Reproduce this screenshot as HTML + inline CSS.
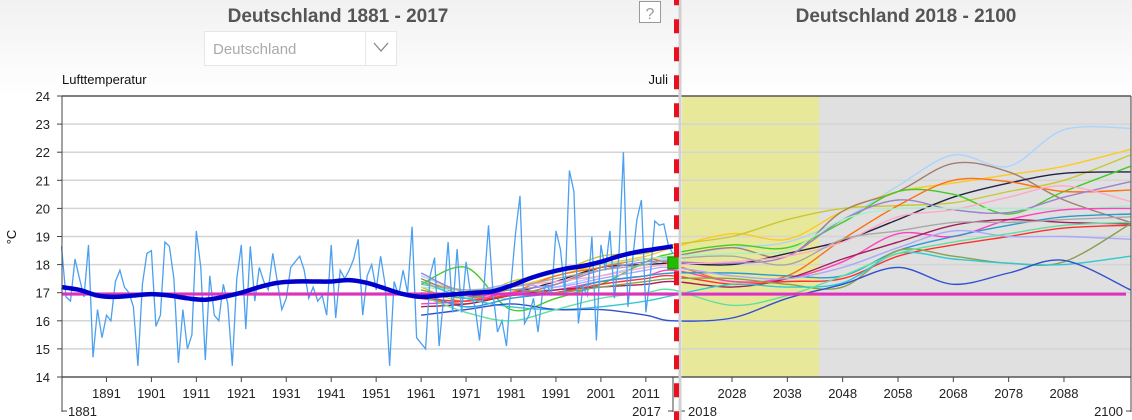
<!DOCTYPE html>
<html><head><meta charset="utf-8">
<style>
body{margin:0;width:1132px;height:420px;overflow:hidden;background:#fff;font-family:"Liberation Sans",sans-serif;}
svg{display:block}
</style></head>
<body>
<svg id="chart" width="1132" height="420" xmlns="http://www.w3.org/2000/svg">
<defs><linearGradient id="hdr" x1="0" y1="0" x2="0" y2="1"><stop offset="0" stop-color="#f1f1f1"/><stop offset="1" stop-color="#ffffff"/></linearGradient></defs>
<rect x="0" y="0" width="1132" height="95" fill="url(#hdr)"/>
<text x="338" y="22" text-anchor="middle" font-size="19" font-weight="bold" fill="#555">Deutschland 1881 - 2017</text>
<text x="906" y="22" text-anchor="middle" font-size="19" font-weight="bold" fill="#555">Deutschland 2018 - 2100</text>
<g>
<rect x="204.5" y="31.5" width="192" height="34" fill="#fff" stroke="#e6e6e6"/>
<line x1="365.5" y1="32" x2="365.5" y2="65" stroke="#e6e6e6"/>
<text x="213" y="54" font-size="15" fill="#aaa">Deutschland</text>
<polyline points="374,43 381,51 388,43" fill="none" stroke="#888" stroke-width="1.3"/>
</g>
<g>
<rect x="639.5" y="1.5" width="21" height="21" fill="#fff" stroke="#999"/>
<text x="650" y="19" text-anchor="middle" font-size="16" fill="#999">?</text>
</g>
<text x="62" y="84" font-size="13" fill="#111">Lufttemperatur</text>
<text x="668" y="84" text-anchor="end" font-size="13" fill="#111">Juli</text>
<text transform="translate(16,237) rotate(-90)" text-anchor="middle" font-size="13" fill="#111">°C</text>
<rect x="682" y="96" width="137" height="281" fill="#e8e89a"/>
<rect x="819" y="96" width="312" height="281" fill="#e0e0e0"/>
<g id="grid"></g>
<g id="series"></g>
<g id="axes"></g>
</svg>
<script>
const yTicks=[14,15,16,17,18,19,20,21,22,23,24];
const histTickYears=[1891,1901,1911,1921,1931,1941,1951,1961,1971,1981,1991,2001,2011];
const projTickYears=[2028,2038,2048,2058,2068,2078,2088];
const refValue=16.95;
const annualStart=1881;
const annual=[18.65,16.85,16.7,18.2,17.5,16.85,18.7,14.7,16.4,15.4,16.2,16.0,17.4,17.8,17.2,17.0,16.5,14.4,17.3,18.4,18.5,15.8,16.2,18.8,18.65,17.5,14.5,16.4,15.0,15.5,19.2,17.9,14.6,17.6,16.2,16.0,17.3,16.6,14.4,17.5,18.7,15.7,18.65,16.7,17.9,17.4,17.1,18.4,17.4,16.4,16.8,17.9,18.1,18.3,17.8,16.8,17.2,16.7,16.9,16.2,18.7,16.1,17.8,17.5,17.8,18.2,18.9,16.2,17.6,18.0,17.1,18.3,17.3,14.4,17.4,16.9,17.8,17.0,19.35,15.4,15.2,15.0,17.6,18.25,15.1,16.8,18.8,16.3,18.55,16.3,18.1,17.0,16.5,15.3,17.2,19.4,17.0,15.6,16.0,15.1,17.3,19.1,20.45,15.9,16.2,16.8,15.6,17.0,17.3,16.9,19.2,18.55,17.0,21.35,20.6,15.9,17.2,16.9,19.0,15.3,18.7,17.8,19.2,16.8,18.3,22.0,16.5,18.1,19.6,20.3,16.3,17.6,19.55,19.4,19.45,18.7,18.4];
const smoothYears=[1881,1885,1889,1893,1897,1901,1905,1909,1913,1917,1921,1925,1929,1933,1937,1941,1945,1949,1953,1957,1961,1965,1969,1973,1977,1981,1985,1989,1993,1997,2001,2005,2009,2013,2017];
const smoothVals=[17.2,17.1,16.9,16.85,16.9,16.95,16.9,16.8,16.75,16.85,17.0,17.2,17.35,17.4,17.4,17.4,17.45,17.35,17.15,16.95,16.85,16.9,16.95,17.0,17.05,17.25,17.5,17.7,17.85,17.95,18.1,18.3,18.45,18.55,18.65];
const markerYear=2017, markerValue=18.06;
const modelYears=[1961,1971,1981,1991,2001,2011,2017,2028,2038,2048,2058,2068,2078,2088,2100];
const modelColors=["#aad4ff","#ffc820","#c8c830","#a08070","#222244","#44cc22","#ff7010","#a080d0","#ffa8c8","#a8f0c8","#ff40c0","#2a9ad0","#a0205a","#ff3030","#a8a8ff","#88a050","#30c8d0","#3050d0","#60e0a0","#a8a8a8"];
const m0=[17.6,17.0,16.8,17.2,17.6,18.0,18.3,18.6,18.8,19.6,20.8,21.9,21.5,22.8,22.85];
const m1=[17.4,17.1,17.2,17.6,18.0,18.3,18.6,19.1,18.9,19.9,20.6,20.9,21.2,21.5,22.1];
const m2=[17.2,16.7,17.4,17.7,18.3,18.4,18.7,19.0,19.6,20.0,20.1,20.2,20.6,21.0,21.9];
const m3=[17.5,16.9,16.9,17.3,17.9,18.2,18.3,18.6,18.3,19.9,20.6,21.6,21.3,20.3,19.5];
const m4=[16.9,16.9,17.0,17.4,17.9,18.0,18.05,18.0,18.4,18.85,19.6,20.4,20.9,21.25,21.3];
const m5=[17.3,17.9,16.4,16.8,17.3,18.1,18.4,18.7,18.6,19.5,20.6,20.5,19.8,20.6,21.5];
const m6=[16.8,16.6,17.0,17.6,17.9,18.2,18.0,17.4,17.6,18.9,20.1,21.0,20.95,20.6,20.65];
const m7=[17.7,17.0,17.1,17.3,17.8,18.1,18.1,18.05,18.3,19.6,20.3,19.95,19.85,20.4,20.95];
const m8=[17.0,16.9,17.2,17.4,17.6,17.9,18.0,18.1,18.3,18.8,19.7,19.95,20.4,20.8,20.25];
const m9=[17.2,17.1,17.3,17.7,18.0,18.2,18.3,18.4,18.5,19.6,20.0,20.0,20.0,19.95,20.1];
const m10=[16.6,16.7,17.0,17.1,17.4,17.6,17.8,17.4,17.5,18.1,19.1,19.0,19.6,19.95,20.0];
const m11=[17.0,16.5,16.8,17.0,17.4,17.6,17.7,17.7,17.6,17.6,18.5,19.0,19.4,19.7,19.8];
const m12=[16.5,16.6,16.9,17.1,17.2,17.3,17.4,17.2,17.5,18.2,18.8,19.4,19.6,19.5,19.45];
const m13=[16.8,16.7,16.9,17.0,17.3,17.5,17.6,17.3,17.4,17.5,18.3,18.7,19.0,19.3,19.4];
const m14=[16.9,17.0,17.3,17.2,17.5,17.8,17.9,17.6,17.5,17.9,18.6,19.2,19.0,19.0,18.9];
const m15=[17.1,16.8,17.1,17.0,17.2,17.4,17.5,17.5,17.3,17.2,18.5,18.3,18.05,18.1,19.45];
const m16=[17.4,16.8,16.5,16.4,16.5,16.7,16.9,17.3,17.2,17.35,18.4,18.2,18.05,18.0,18.3];
const m17=[16.2,16.4,16.6,16.4,16.4,16.2,16.0,16.1,16.8,17.3,17.9,17.3,17.7,18.15,17.1];
const m18=[16.9,16.3,16.0,16.4,16.8,17.0,17.1,16.55,16.9,17.6,18.4,18.8,19.1,19.4,19.5];
const m19=[17.3,17.1,17.2,17.5,17.8,18.0,18.2,18.3,18.0,18.9,19.2,19.5,19.5,19.6,19.7];
const models=[m0,m1,m2,m3,m4,m5,m6,m7,m8,m9,m10,m11,m12,m13,m14,m15,m16,m17,m18,m19];

const NS="http://www.w3.org/2000/svg";
const PT=96,PB=377,PL=62,PR=1131;
function yS(v){return PB-(v-14)*(PB-PT)/10;}
function xS(yr){return yr<=2017.5? 61.5+(yr-1881)*4.495 : 732+(yr-2028)*5.533;}
function mk(tag,attrs,parent){const e=document.createElementNS(NS,tag);for(const k in attrs)e.setAttribute(k,attrs[k]);parent.appendChild(e);return e;}
function smooth(pts){let d="M"+pts[0][0].toFixed(1)+","+pts[0][1].toFixed(1);
 for(let i=0;i<pts.length-1;i++){const p0=pts[Math.max(0,i-1)],p1=pts[i],p2=pts[i+1],p3=pts[Math.min(pts.length-1,i+2)];
  const c1=[p1[0]+(p2[0]-p0[0])/6,p1[1]+(p2[1]-p0[1])/6],c2=[p2[0]-(p3[0]-p1[0])/6,p2[1]-(p3[1]-p1[1])/6];
  d+="C"+c1[0].toFixed(1)+","+c1[1].toFixed(1)+" "+c2[0].toFixed(1)+","+c2[1].toFixed(1)+" "+p2[0].toFixed(1)+","+p2[1].toFixed(1);}
 return d;}
const grid=document.getElementById('grid'),series=document.getElementById('series'),axes=document.getElementById('axes');
yTicks.forEach(v=>{
 if(v>14&&v<24){const g=mk('line',{x1:PL,x2:PR,y1:yS(v),y2:yS(v),stroke:'#d4d4d4','stroke-width':1.5},grid);
 
 }
 const t=mk('text',{x:50,y:yS(v)+5,'text-anchor':'end','font-size':13,fill:'#222'},axes);t.textContent=v;
 
 
 mk('line',{x1:PL-5,x2:PL,y1:yS(v),y2:yS(v),stroke:'#444'},axes);
});
// models
models.forEach((m,i)=>{
 const p=mk('path',{d:smooth(m.map((v,j)=>[xS(modelYears[j]),yS(v)])),fill:'none',stroke:modelColors[i],'stroke-width':1.4},series);
 
 
});
// annual
const an=mk('polyline',{points:annual.map((v,i)=>xS(annualStart+i).toFixed(1)+","+yS(v).toFixed(1)).join(" "),fill:'none',stroke:'#4ca0f0','stroke-width':1.3},series);


const ref=mk('line',{x1:PL,x2:PR-5,y1:yS(refValue),y2:yS(refValue),stroke:'#e030c0','stroke-width':3},series);


const sm=mk('path',{d:smooth(smoothYears.map((y,i)=>[xS(y),yS(smoothVals[i])])),fill:'none',stroke:'#0000cc','stroke-width':4.5},series);


const mkr=mk('rect',{x:xS(markerYear)-5,y:yS(markerValue)-6,width:11,height:12,fill:'#22bb00',stroke:'#118800'},series);


// axes
mk('line',{x1:PL,x2:PR,y1:PT,y2:PT,stroke:'#555','stroke-width':1.5},axes);
mk('line',{x1:PL,x2:PR,y1:PB,y2:PB,stroke:'#555','stroke-width':1.5},axes);
mk('line',{x1:PL,x2:PL,y1:PT,y2:412,stroke:'#444'},axes);
mk('line',{x1:PR,x2:PR,y1:PT,y2:412,stroke:'#444'},axes);
mk('line',{x1:673,x2:673,y1:PB,y2:412,stroke:'#444'},axes);
mk('line',{x1:680,x2:680,y1:PB,y2:412,stroke:'#444'},axes);
histTickYears.concat(projTickYears).forEach(yr=>{
 mk('line',{x1:xS(yr),x2:xS(yr),y1:PB,y2:PB+5,stroke:'#444'},axes);
 const t=mk('text',{x:xS(yr),y:398,'text-anchor':'middle','font-size':13,fill:'#222'},axes);t.textContent=yr;
 
 
});
[[62,'start',"1881",68],[673,'end',"2017",661],[680,'start',"2018",688],[1131,'end',"2100",1123]].forEach(a=>{
 const side=a[1]==='start'?1:-1;
 mk('line',{x1:a[0],x2:a[0]+side*5,y1:411,y2:411,stroke:'#444'},axes);
 const t=mk('text',{x:a[3],y:416,'text-anchor':a[1],'font-size':13,fill:'#222'},axes);t.textContent=a[2];
 
 
});
const gl=mk('line',{x1:680,x2:680,y1:0,y2:420,stroke:'#d0d0d0','stroke-width':3},axes);


const dl=mk('line',{x1:676.5,x2:676.5,y1:0,y2:420,stroke:'#e8101e','stroke-width':5,'stroke-dasharray':'14 14','stroke-dashoffset':8.7},axes);


</script>
</body></html>
